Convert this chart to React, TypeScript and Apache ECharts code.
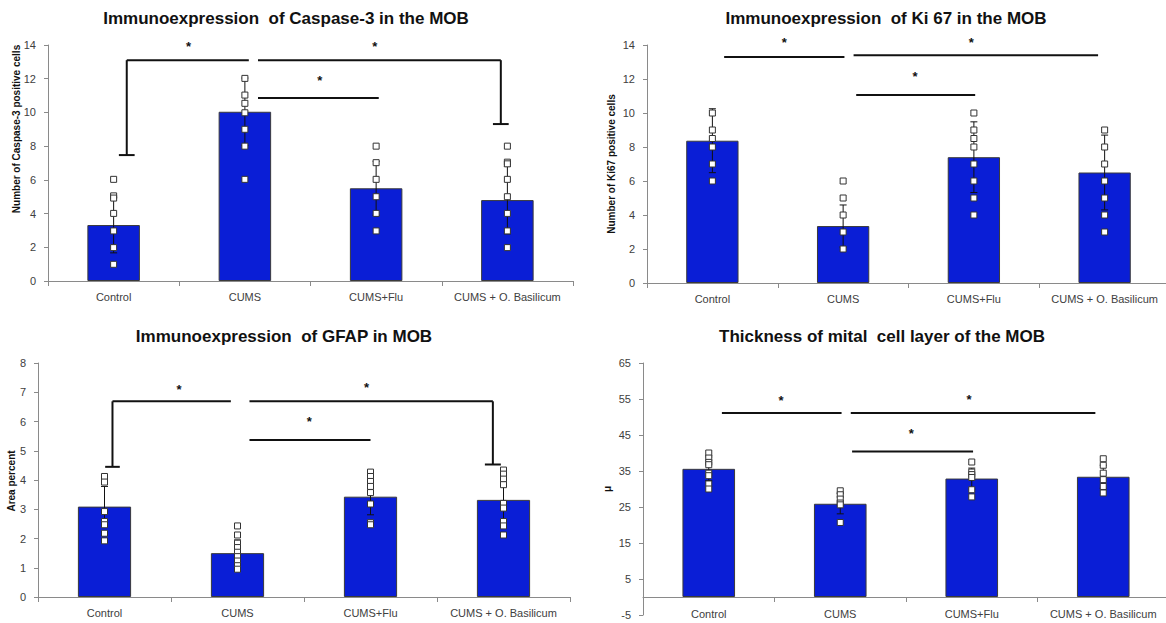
import React, { useEffect, useRef } from "react";
import * as echarts from "echarts";

const categories = ["Control", "CUMS", "CUMS+Flu", "CUMS + O. Basilicum"];

// Panel 1: Caspase-3
const casTitle = "Immunoexpression  of Caspase-3 in the MOB";
const casYName = "Number of Caspase-3 positive cells";
const casTicks = [0, 2, 4, 6, 8, 10, 12, 14];
const casMeans = [3.32, 10.04, 5.5, 4.8];
const casSD = [1.65, 2.0, 1.6, 2.0];
const casPoints = [
  [6.03, 5.05, 4.92, 4.01, 2.97, 1.98, 0.99],
  [12.02, 11.03, 10.54, 9.98, 9.0, 8.0, 6.03],
  [8.0, 7.02, 6.03, 5.0, 4.01, 2.97],
  [8.0, 7.05, 6.95, 6.03, 5.0, 4.01, 2.97, 1.98],
];
const casBrackets = [
  [0.1, 13.1, 1.03, 13.1],
  [0.1, 13.1, 0.1, 7.47],
  [0.04, 7.47, 0.16, 7.47],
  [1.1, 13.1, 2.95, 13.1],
  [2.95, 13.1, 2.95, 9.31],
  [2.89, 9.31, 3.01, 9.31],
  [1.1, 10.85, 2.02, 10.85],
];
const casStars = [
  [0.57, 14.06],
  [1.99, 14.06],
  [1.57, 12.1],
];

// Panel 2: Ki 67
const kiTitle = "Immunoexpression  of Ki 67 in the MOB";
const kiYName = "Number of Ki67 positive cells";
const kiTicks = [0, 2, 4, 6, 8, 10, 12, 14];
const kiMeans = [8.37, 3.35, 7.4, 6.5];
const kiSD = [1.88, 1.24, 2.08, 2.2];
const kiPoints = [
  [10, 9, 8.5, 8, 7, 6],
  [6, 5, 4, 3, 2],
  [10, 9, 8.5, 8, 7, 6, 5, 4],
  [9, 8, 7, 6, 5, 4, 3],
];
const kiBrackets = [
  [0.09, 13.3, 1.01, 13.3],
  [1.08, 13.4, 2.95, 13.4],
  [1.1, 11.06, 2.01, 11.06],
];
const kiStars = [
  [0.55, 14.35],
  [1.98, 14.35],
  [1.55, 12.3],
];

// Panel 3: GFAP
const gfTitle = "Immunoexpression  of GFAP in MOB";
const gfYName = "Area percent";
const gfTicks = [0, 1, 2, 3, 4, 5, 6, 7, 8];
const gfMeans = [3.09, 1.5, 3.43, 3.32];
const gfSD = [0.69, 0.45, 0.62, 0.75];
const gfPoints = [
  [4.12, 3.93, 2.92, 2.58, 2.47, 2.18, 1.92],
  [2.43, 2.12, 1.84, 1.69, 1.53, 1.38, 1.23, 1.07, 0.95],
  [4.27, 4.12, 3.95, 3.78, 3.57, 3.18, 2.54, 2.47],
  [4.34, 4.2, 4.03, 3.84, 3.2, 3.04, 2.58, 2.43, 2.12],
];
const gfBrackets = [
  [0.06, 6.69, 0.95, 6.69],
  [0.06, 6.69, 0.06, 4.45],
  [0.005, 4.45, 0.115, 4.45],
  [1.09, 6.69, 2.92, 6.69],
  [2.92, 6.69, 2.92, 4.53],
  [2.86, 4.53, 2.98, 4.53],
  [1.09, 5.37, 2.0, 5.37],
];
const gfStars = [
  [0.56, 7.21],
  [1.97, 7.28],
  [1.54, 6.11],
];

// Panel 4: Thickness
const thTitle = "Thickness of mital  cell layer of the MOB";
const thYName = "\u03bc";
const thTicks = [-5, 5, 15, 25, 35, 45, 55, 65];
const thMeans = [35.6, 25.9, 32.9, 33.4];
const thSD = [3.3, 2.8, 2.9, 3.2];
const thPoints = [
  [40.0, 38.6, 37.4, 36.75, 34.4, 33.7, 31.4, 30.0],
  [29.5, 28.4, 27.2, 26.1, 25.6, 20.7],
  [37.5, 34.7, 34.0, 33.2, 29.8, 27.8],
  [38.4, 36.6, 34.4, 32.6, 30.7, 28.9],
];
const thBrackets = [
  [0.1, 51.1, 1.01, 51.1],
  [1.08, 51.1, 2.94, 51.1],
  [1.09, 40.4, 2.01, 40.4],
];
const thStars = [
  [0.55, 55.4],
  [1.98, 55.7],
  [1.54, 46.2],
];

const panels = [
  { title: casTitle, yName: casYName, ticks: casTicks, means: casMeans, sd: casSD, points: casPoints, brackets: casBrackets, stars: casStars },
  { title: kiTitle, yName: kiYName, ticks: kiTicks, means: kiMeans, sd: kiSD, points: kiPoints, brackets: kiBrackets, stars: kiStars },
  { title: gfTitle, yName: gfYName, ticks: gfTicks, means: gfMeans, sd: gfSD, points: gfPoints, brackets: gfBrackets, stars: gfStars },
  { title: thTitle, yName: thYName, ticks: thTicks, means: thMeans, sd: thSD, points: thPoints, brackets: thBrackets, stars: thStars },
];

const layout = [
  { grid: { left: 48, top: 45, width: 525, height: 236 }, title: [286, 18], yName: [16, 129], labelMargin: 10 },
  { grid: { left: 647, top: 45, width: 523, height: 238 }, title: [886, 18], yName: [611, 164], labelMargin: 10 },
  { grid: { left: 38, top: 363, width: 532, height: 234 }, title: [284, 336], yName: [11, 481], labelMargin: 10 },
  { grid: { left: 643, top: 363, width: 526, height: 252 }, title: [882, 336], yName: [607, 489], labelMargin: -7 },
];

const AXIS_COLOR = "#8a8a8a";
const LABEL_COLOR = "#404040";
const FONT = "'Liberation Sans', Arial, sans-serif";

function buildOption() {
  const grid: any[] = [];
  const xAxis: any[] = [];
  const yAxis: any[] = [];
  const series: any[] = [];
  const graphic: any[] = [];

  panels.forEach((p, i) => {
    const L = layout[i];
    grid.push({ ...L.grid, containLabel: false, outerBoundsMode: "none" });
    xAxis.push({
      type: "category",
      gridIndex: i,
      data: categories,
      axisLine: { show: true, onZero: true, lineStyle: { color: AXIS_COLOR, width: 1 } },
      axisTick: { show: true, alignWithLabel: false, length: 5, lineStyle: { color: AXIS_COLOR } },
      axisLabel: { color: LABEL_COLOR, fontSize: 11, fontFamily: FONT, margin: L.labelMargin, interval: 0 },
      splitLine: { show: false },
    });
    yAxis.push({
      type: "value",
      gridIndex: i,
      min: p.ticks[0],
      max: p.ticks[p.ticks.length - 1],
      axisLine: { show: true, onZero: false, lineStyle: { color: AXIS_COLOR, width: 1 } },
      axisTick: { show: true, inside: false, length: 4, lineStyle: { color: AXIS_COLOR }, customValues: p.ticks },
      axisLabel: { color: LABEL_COLOR, fontSize: 11, fontFamily: FONT, margin: 12, customValues: p.ticks },
      splitLine: { show: false },
    });
  });
  // hidden value x axes for annotations (category centres at 0..3)
  panels.forEach((p, i) => {
    xAxis.push({ type: "value", gridIndex: i, min: -0.5, max: 3.5, show: false });
  });

  panels.forEach((p, i) => {
    const L = layout[i];
    series.push({
      type: "bar",
      xAxisIndex: i,
      yAxisIndex: i,
      data: p.means,
      barWidth: "40%",
      itemStyle: { color: "#0a1ed6", borderColor: "#3a3a3a", borderWidth: 1 },
      z: 2,
    });
    series.push({
      type: "custom",
      xAxisIndex: i,
      yAxisIndex: i,
      data: p.means.map((m, k) => [k, m - p.sd[k], m + p.sd[k]]),
      encode: { x: 0, y: [1, 2] },
      z: 3,
      renderItem: (params: any, api: any) => {
        const x = api.value(0);
        const lo = api.coord([x, api.value(1)]);
        const hi = api.coord([x, api.value(2)]);
        const w = 3.5;
        const st = { stroke: "#111", lineWidth: 1 };
        return {
          type: "group",
          children: [
            { type: "line", shape: { x1: lo[0], y1: lo[1], x2: hi[0], y2: hi[1] }, style: st },
            { type: "line", shape: { x1: hi[0] - w, y1: hi[1], x2: hi[0] + w, y2: hi[1] }, style: st },
            { type: "line", shape: { x1: lo[0] - w, y1: lo[1], x2: lo[0] + w, y2: lo[1] }, style: st },
          ],
        };
      },
    });
    const pts: number[][] = [];
    p.points.forEach((arr, k) => arr.forEach((v) => pts.push([k, v])));
    series.push({
      type: "scatter",
      xAxisIndex: i,
      yAxisIndex: i,
      data: pts,
      symbol: "rect",
      symbolSize: 6,
      itemStyle: { color: "#ffffff", borderColor: "#333", borderWidth: 1, opacity: 1 },
      z: 4,
    });
    series.push({
      type: "custom",
      xAxisIndex: 4 + i,
      yAxisIndex: i,
      data: p.brackets,
      encode: { x: [0, 2], y: [1, 3] },
      z: 5,
      renderItem: (params: any, api: any) => {
        const a = api.coord([api.value(0), api.value(1)]);
        const b = api.coord([api.value(2), api.value(3)]);
        return {
          type: "line",
          shape: { x1: a[0], y1: a[1], x2: b[0], y2: b[1] },
          style: { stroke: "#111", lineWidth: 2 },
        };
      },
    });
    series.push({
      type: "custom",
      xAxisIndex: 4 + i,
      yAxisIndex: i,
      data: p.stars,
      encode: { x: 0, y: 1 },
      z: 5,
      renderItem: (params: any, api: any) => {
        const c = api.coord([api.value(0), api.value(1)]);
        return {
          type: "text",
          x: c[0],
          y: c[1] + 3,
          style: {
            text: "*",
            fill: "#111",
            font: `bold 13px ${FONT}`,
            align: "center",
            verticalAlign: "middle",
          },
        };
      },
    });

    graphic.push({
      type: "text",
      x: L.title[0],
      y: L.title[1],
      style: {
        text: p.title,
        fill: "#111",
        font: `bold 17px ${FONT}`,
        align: "center",
        verticalAlign: "middle",
        whiteSpace: "pre",
      },
    });
    graphic.push({
      type: "text",
      x: L.yName[0],
      y: L.yName[1],
      rotation: Math.PI / 2,
      style: {
        text: p.yName,
        fill: "#111",
        font: `bold 10px ${FONT}`,
        align: "center",
        verticalAlign: "middle",
      },
    });
  });

  return {
    animation: false,
    backgroundColor: "#ffffff",
    grid,
    xAxis,
    yAxis,
    series,
    graphic,
  };
}

export default function App() {
  const ref = useRef<HTMLDivElement>(null);
  useEffect(() => {
    document.body.style.margin = "0";
    if (!ref.current) return;
    const chart = echarts.init(ref.current, null, { renderer: "svg" });
    chart.setOption(buildOption() as any);
    return () => chart.dispose();
  }, []);
  return <div ref={ref} style={{ width: 1166, height: 623 }} />;
}
